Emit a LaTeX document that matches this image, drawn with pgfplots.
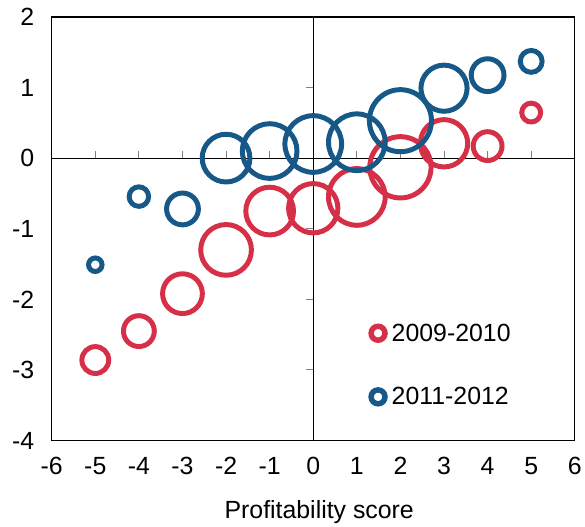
\documentclass[border=0pt]{standalone}
\usepackage{fontspec}
\setmainfont{Liberation Sans}
\usepackage{pgfplots}
\pgfplotsset{compat=1.18}
\definecolor{cred}{RGB}{214,48,73}
\definecolor{cblue}{RGB}{22,88,136}
\newcommand{\bigfont}{\fontsize{25bp}{29bp}\selectfont}
\pgfplotstableread{
x y r
-5 -2.86 13.5
-4 -2.45 15.5
-3 -1.92 20
-2 -1.30 25.5
-1 -0.75 24
0 -0.71 24.8
1 -0.55 28.5
2 -0.13 30.8
3 0.21 23.8
4 0.17 14.5
5 0.645 9.5
}\redtab
\pgfplotstableread{
x y r
-5 -1.51 6.8
-4 -0.545 9.8
-3 -0.72 16
-2 0.0 24
-1 0.10 27.5
0 0.20 28.5
1 0.225 28.5
2 0.53 31.2
3 0.99 23.2
4 1.175 16.5
5 1.37 11
}\bluetab
\begin{document}
\begin{tikzpicture}
\begin{axis}[scale only axis, width=526bp, height=426bp,
  xmin=-6, xmax=6, ymin=-4, ymax=2,
  axis lines=middle, axis line style={line width=1bp, -, black},
  xtick={-5,-4,-3,-2,-1,1,2,3,4,5}, ytick={-3,-2,-1,1},
  xticklabels={}, yticklabels={},
  major tick length=7bp, tick style={gray, line width=1bp},
  xtick align=inside, ytick align=outside]
\end{axis}
\begin{axis}[scale only axis, width=526bp, height=426bp,
  xmin=-6, xmax=6, ymin=-4, ymax=2,
  axis line style={line width=1.2bp, black},
  xtick={-6,-5,-4,-3,-2,-1,0,1,2,3,4,5,6},
  xticklabels={-6,-5,-4,-3,-2,-1,0,1,2,3,4,5,6},
  ytick={-4,-3,-2,-1,0,1,2},
  yticklabels={-4,-3,-2,-1,0,1,2},
  major tick length=0pt, tick style={draw=none},
  tick label style={font=\bigfont},
  xticklabel style={yshift=-13bp},
  yticklabel style={xshift=-14bp},
  xlabel={Profitability score},
  xlabel style={font=\bigfont, at={(axis description cs:0.5,0)}, anchor=base, yshift=-78bp, xshift=6bp},
  clip=false,
  legend cell align=left,
  legend style={at={(axis cs:1.26,-2.33)}, anchor=north west, draw=none, fill=none,
    inner sep=0pt, row sep=43bp, font=\bigfont, nodes={inner sep=1bp},
    /tikz/every odd column/.append style={column sep=3bp}},
]
\addplot[scatter, only marks, mark=o,
  scatter/use mapped color={draw=cred, fill=none},
  mark options={line width=5bp},
  visualization depends on={\thisrow{r}\as\rad},
  scatter/@pre marker code/.append style={/tikz/mark size=\rad bp},
  legend image code/.code={\draw[cred, line width=5.5bp] (0bp,0bp) circle (7bp);}]
  table[x=x, y=y] {\redtab};
\addlegendentry{2009-2010}
\addplot[scatter, only marks, mark=o,
  scatter/use mapped color={draw=cblue, fill=none},
  mark options={line width=5bp},
  visualization depends on={\thisrow{r}\as\rad},
  scatter/@pre marker code/.append style={/tikz/mark size=\rad bp},
  legend image code/.code={\draw[cblue, line width=5.5bp] (0bp,0bp) circle (7bp);}]
  table[x=x, y=y] {\bluetab};
\addlegendentry{2011-2012}
\end{axis}
\path (-52bp,-84bp) rectangle (533bp,443bp);
\end{tikzpicture}
\end{document}
